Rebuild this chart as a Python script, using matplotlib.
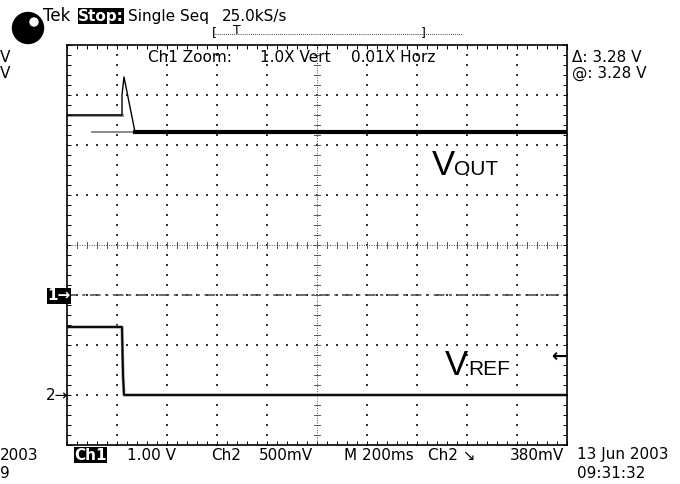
import numpy as np
import matplotlib.pyplot as plt
from matplotlib.patches import Ellipse

# screen is 10 x 8 divisions, values in divisions from lower-left
vout_t = [0.0, 1.1, 1.1, 1.14, 1.36, 10.0]
vout_v = [6.6, 6.6, 7.0, 7.36, 6.26, 6.26]
vout_ref_t = [0.5, 1.36]
vout_ref_v = [6.26, 6.26]
vref_t = [0.0, 1.1, 1.12, 1.14, 1.3, 10.0]
vref_v = [2.36, 2.36, 1.4, 1.0, 1.0, 1.0]
ch1_level = 3.0

fig = plt.figure(figsize=(6.8, 4.84), dpi=100)
ax = fig.add_axes([67 / 680, 39 / 484, 500 / 680, 400 / 484])
ax.set_xlim(0, 10)
ax.set_ylim(0, 8)

def px(x, y):
    return x / 680, 1 - y / 484

# dotted graticule
sub = np.arange(0, 10.01, 0.2)
suby = np.arange(0, 8.01, 0.2)
for gx in range(1, 10):
    if gx == 5:
        continue
    ax.scatter(np.full(len(suby), gx), suby, s=0.9, color='#333333', marker='s', lw=0)
for gy in range(1, 8):
    if gy == 4:
        continue
    ax.scatter(sub, np.full(len(sub), gy), s=0.9, color='#333333', marker='s', lw=0)
# center cross with ticks
ax.plot([5, 5], [0, 8], color='#555555', lw=0.7, ls=(0, (1, 1.5)))
ax.plot([0, 10], [4, 4], color='#555555', lw=0.7, ls=(0, (1, 1.5)))
for t in sub:
    ax.plot([t, t], [3.94, 4.06], color='#555555', lw=0.7)
for t in suby:
    ax.plot([4.94, 5.06], [t, t], color='#555555', lw=0.7)

ax.set_xticks(sub)
ax.set_yticks(suby)
ax.tick_params(direction='in', length=3, width=0.7, labelleft=False, labelbottom=False,
               top=True, right=True)
for s in ax.spines.values():
    s.set_linewidth(1.2)

# traces
ax.plot(vout_ref_t, vout_ref_v, color='#777777', lw=1.2)
ax.plot(vout_t[:5], vout_v[:5], color='black', lw=1.0)
ax.plot(vout_t[4:], vout_v[4:], color='black', lw=3.0)
ax.plot(vout_t[:2], vout_v[:2], color='#888888', lw=2.0, zorder=1)
ax.plot(vref_t, vref_v, color='black', lw=1.3)
ax.plot(vref_t, vref_v, color='#888888', lw=2.2, zorder=1)
ax.plot([0, 10], [ch1_level, ch1_level], color='#444444', lw=1.1, ls=(0, (7, 3, 2, 3)))

lab = 'Liberation Sans'
ax.text(7.3, 5.4, 'V', fontsize=25, va='baseline', ha='left', family=lab)
ax.text(7.74, 5.4, 'OUT', fontsize=15, va='baseline', ha='left', family=lab)
ax.text(7.56, 1.4, 'V', fontsize=25, va='baseline', ha='left', family=lab)
ax.text(8.02, 1.4, 'REF', fontsize=15, va='baseline', ha='left', family=lab)
ax.text(9.98, 1.76, '\u2190', fontsize=13, va='center', ha='right', fontweight='bold')

mono = 'DejaVu Sans'
fs = 11
# top header
fig.patches.append(Ellipse(px(28, 28), 31 / 680, 31 / 484, transform=fig.transFigure,
                           color='black'))
fig.patches.append(Ellipse(px(34, 22), 8 / 680, 8 / 484, transform=fig.transFigure,
                           color='white'))
fig.text(*px(43, 16), 'Tek', fontsize=12, va='center', family=mono)
fig.text(*px(78, 16), 'Stop:', fontsize=fs, va='center', family=mono, color='white',
         fontweight='bold', bbox=dict(facecolor='black', edgecolor='none', pad=0.3))
fig.text(*px(128, 16), 'Single Seq', fontsize=fs, va='center', family=mono)
fig.text(*px(222, 16), '25.0kS/s', fontsize=fs, va='center', family=mono)
fig.lines.append(plt.Line2D([213 / 680, 463 / 680], [1 - 34 / 484] * 2, transform=fig.transFigure,
                            color='black', lw=0.6, ls=(0, (1, 1.5))))
fig.text(*px(214, 33), '[', fontsize=9, va='center', ha='center', family=mono)
fig.text(*px(423, 33), ']', fontsize=9, va='center', ha='center', family=mono)
fig.text(*px(237, 31), 'T', fontsize=9, va='center', ha='center', family=mono)

fig.text(*px(148, 58), 'Ch1 Zoom:', fontsize=fs, va='center', family=mono)
fig.text(*px(260, 58), '1.0X Vert', fontsize=fs, va='center', family=mono)
fig.text(*px(351, 58), '0.01X Horz', fontsize=fs, va='center', family=mono)
fig.text(*px(572, 57), '\u0394: 3.28 V', fontsize=fs, va='center', family=mono)
fig.text(*px(572, 73), '@: 3.28 V', fontsize=fs, va='center', family=mono)
fig.text(*px(0, 57), 'V', fontsize=fs, va='center', family=mono)
fig.text(*px(0, 73), 'V', fontsize=fs, va='center', family=mono)

# channel markers
fig.text(*px(47, 296), '1\u2192', fontsize=fs, va='center', family=mono, color='white',
         fontweight='bold', bbox=dict(facecolor='black', edgecolor='none', pad=0.3))
fig.text(*px(46, 396), '2\u2192', fontsize=fs, va='center', family=mono)

# bottom readout
fig.text(*px(74, 455), 'Ch1', fontsize=fs, va='center', family=mono, color='white',
         fontweight='bold', bbox=dict(facecolor='black', edgecolor='none', pad=0.3))
fig.text(*px(127, 455), '1.00 V', fontsize=fs, va='center', family=mono)
fig.text(*px(211, 455), 'Ch2', fontsize=fs, va='center', family=mono)
fig.text(*px(259, 455), '500mV', fontsize=fs, va='center', family=mono)
fig.text(*px(344, 455), 'M 200ms', fontsize=fs, va='center', family=mono)
fig.text(*px(428, 455), 'Ch2 \u2198', fontsize=fs, va='center', family=mono)
fig.text(*px(510, 455), '380mV', fontsize=fs, va='center', family=mono)
fig.text(*px(577, 455), '13 Jun 2003', fontsize=fs, va='center', family=mono)
fig.text(*px(577, 473), '09:31:32', fontsize=fs, va='center', family=mono)
fig.text(*px(0, 455), '2003', fontsize=fs, va='center', family=mono)
fig.text(*px(0, 473), '9', fontsize=fs, va='center', family=mono)

fig.savefig('out.png', dpi=100)
